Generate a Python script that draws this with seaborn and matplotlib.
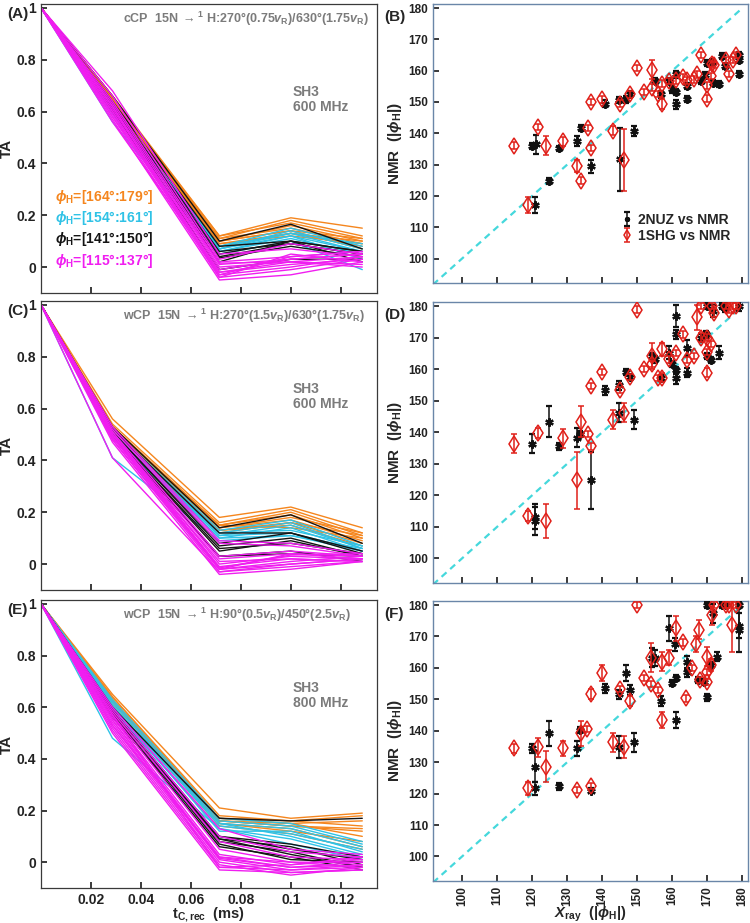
import numpy as np
import pandas as pd
import matplotlib
matplotlib.use("Agg")
import matplotlib.pyplot as plt
import seaborn as sns

# ---------------- data: decay curves (TA vs t_C,rec) ----------------
t_rec = [0, 0.0286, 0.0714, 0.1, 0.1286]
group_colors = ['#f5861e', '#2fc2e6', '#141414', '#f01ef0']
group_labels = [r'$\phi_\mathrm{H}$=[164°:179°]', r'$\phi_\mathrm{H}$=[154°:161°]',
                r'$\phi_\mathrm{H}$=[141°:150°]', r'$\phi_\mathrm{H}$=[115°:137°]']

# TA values at t_rec[1:], TA(0) = 1
A_orange = [[0.66, 0.12, 0.19, 0.15], [0.66, 0.11, 0.18, 0.12], [0.65, 0.12, 0.17, 0.11],
            [0.65, 0.10, 0.16, 0.10], [0.64, 0.11, 0.15, 0.09], [0.64, 0.10, 0.14, 0.11],
            [0.65, 0.09, 0.13, 0.08], [0.63, 0.10, 0.14, 0.07], [0.64, 0.09, 0.12, 0.09],
            [0.63, 0.08, 0.13, 0.10]]
A_cyan = [[0.62, 0.08, 0.15, 0.08], [0.62, 0.07, 0.14, 0.07], [0.61, 0.08, 0.13, 0.09],
          [0.60, 0.07, 0.12, 0.06], [0.61, 0.06, 0.11, 0.05], [0.59, 0.06, 0.12, 0.03],
          [0.56, 0.05, 0.10, -0.01], [0.60, 0.07, 0.13, 0.06]]
A_black = [[0.66, 0.10, 0.165, 0.07], [0.64, 0.08, 0.10, 0.06], [0.63, 0.06, 0.09, 0.05],
           [0.62, 0.05, 0.10, 0.06], [0.62, 0.04, 0.09, 0.05], [0.61, 0.035, 0.08, 0.04],
           [0.60, 0.02, 0.10, 0.02], [0.60, -0.01, 0.03, 0.03]]
A_magenta = [[0.68, 0.05, 0.07, 0.04], [0.66, 0.03, 0.09, 0.05], [0.64, 0.02, 0.04, 0.06],
             [0.63, 0.01, 0.03, 0.05], [0.62, 0.00, 0.02, 0.04], [0.61, -0.01, 0.03, 0.05],
             [0.60, -0.02, 0.01, 0.03], [0.59, -0.03, 0.00, 0.04], [0.58, -0.04, -0.01, 0.03],
             [0.57, -0.05, -0.03, 0.02], [0.56, -0.02, 0.02, 0.00], [0.60, -0.03, 0.04, 0.06],
             [0.62, -0.04, 0.05, 0.02], [0.58, 0.015, 0.02, 0.01]]

C_orange = [[0.56, 0.18, 0.22, 0.14], [0.54, 0.16, 0.21, 0.12], [0.53, 0.15, 0.20, 0.11],
            [0.53, 0.15, 0.19, 0.10], [0.52, 0.14, 0.18, 0.12], [0.52, 0.14, 0.17, 0.09],
            [0.51, 0.13, 0.16, 0.08], [0.51, 0.13, 0.15, 0.07], [0.50, 0.12, 0.16, 0.11],
            [0.52, 0.15, 0.14, 0.10]]
C_cyan = [[0.52, 0.13, 0.17, 0.07], [0.51, 0.12, 0.16, 0.06], [0.50, 0.11, 0.15, 0.06],
          [0.50, 0.11, 0.12, 0.05], [0.49, 0.10, 0.11, 0.06], [0.49, 0.12, 0.13, 0.07],
          [0.41, 0.09, 0.11, 0.05], [0.50, 0.10, 0.14, 0.05]]
C_black = [[0.53, 0.14, 0.19, 0.08], [0.52, 0.12, 0.12, 0.05], [0.51, 0.08, 0.12, 0.04],
           [0.51, 0.07, 0.10, 0.03], [0.50, 0.06, 0.08, 0.04], [0.50, 0.05, 0.09, 0.03],
           [0.49, 0.03, 0.04, 0.03], [0.50, 0.03, 0.05, 0.01]]
C_magenta = [[0.53, 0.09, 0.08, 0.04], [0.52, 0.08, 0.07, 0.03], [0.51, 0.03, 0.05, 0.03],
             [0.50, 0.02, 0.04, 0.02], [0.50, 0.00, 0.03, 0.02], [0.49, -0.01, 0.02, 0.01],
             [0.49, -0.02, 0.01, 0.03], [0.48, -0.02, 0.00, 0.02], [0.48, -0.03, -0.01, 0.01],
             [0.47, -0.04, -0.02, 0.01], [0.41, -0.03, 0.00, 0.02], [0.50, -0.015, 0.035, 0.04],
             [0.49, 0.01, 0.02, 0.01], [0.51, -0.02, 0.04, 0.03]]

E_orange = [[0.65, 0.21, 0.17, 0.19], [0.64, 0.18, 0.16, 0.18], [0.64, 0.17, 0.15, 0.16],
            [0.63, 0.17, 0.16, 0.14], [0.63, 0.16, 0.14, 0.12], [0.62, 0.16, 0.15, 0.10],
            [0.62, 0.15, 0.12, 0.08], [0.63, 0.15, 0.13, 0.06], [0.61, 0.14, 0.11, 0.05],
            [0.62, 0.16, 0.14, 0.13]]
E_cyan = [[0.63, 0.17, 0.15, 0.08], [0.62, 0.16, 0.14, 0.07], [0.62, 0.15, 0.13, 0.06],
          [0.61, 0.14, 0.11, 0.05], [0.60, 0.15, 0.10, 0.03], [0.59, 0.13, 0.09, 0.02],
          [0.48, 0.13, 0.07, 0.01], [0.60, 0.12, 0.12, 0.04]]
E_black = [[0.60, 0.17, 0.16, 0.17], [0.59, 0.10, 0.07, 0.02], [0.59, 0.09, 0.06, -0.01],
           [0.58, 0.08, 0.04, -0.02], [0.58, 0.07, 0.01, 0.00], [0.57, 0.06, 0.02, -0.03],
           [0.57, 0.10, 0.05, 0.01], [0.56, 0.09, 0.03, -0.02]]
E_magenta = [[0.60, 0.13, 0.05, 0.03], [0.59, 0.10, 0.04, 0.02], [0.58, 0.08, 0.02, 0.01],
             [0.57, 0.05, 0.00, 0.00], [0.56, 0.03, -0.01, 0.02], [0.55, 0.02, -0.02, -0.01],
             [0.54, 0.01, -0.03, -0.02], [0.53, 0.00, -0.04, -0.03], [0.52, -0.01, -0.05, -0.02],
             [0.51, -0.02, -0.03, -0.01], [0.50, -0.03, -0.04, -0.03], [0.55, 0.015, -0.02, 0.00],
             [0.57, -0.02, -0.01, 0.01], [0.53, 0.02, 0.00, -0.02]]

# ---------------- data: X-ray vs NMR |phi_H| ----------------
B_nuz_x = [120, 121, 120.8, 124.8, 127.8, 132.8, 133.9, 136.9, 140.9, 145, 144.9, 146.9, 148, 149,
           155, 156.8, 159, 160, 161, 161.2, 161.2, 164.1, 164.1, 168.1, 169.3, 170, 171.2, 171.7,
           173.2, 174.3, 175.1, 179.1, 179.1, 179.1]
B_nuz_y = [136, 136.5, 117, 124.7, 135.2, 137.6, 141.6, 129.4, 149.5, 131.7, 150.6, 150.8, 152.5,
           140.7, 156.6, 152.4, 156.6, 154, 153.2, 158.8, 149.2, 150.9, 155.1, 156.6, 158.5, 162.4,
           162.7, 156, 155.7, 164.6, 161.5, 163.3, 164.9, 159]
B_nuz_e = [1, 3, 2.5, 1, 0.8, 1.5, 1, 2, 1, 10, 1, 1, 1, 1.5, 1, 1, 1, 1, 1, 1, 1.5, 1, 1, 1, 1,
           1, 1, 1, 1, 1, 1, 1, 1, 1]
B_shg_x = [114.7, 118.9, 121.8, 123.9, 128.9, 132.8, 133.9, 135.9, 136.9, 136.9, 139.9, 143, 145,
           146.2, 148, 149.9, 151.9, 154.1, 154.1, 156, 157, 157, 159, 161.2, 163, 164.1, 166.2,
           167.1, 168.1, 170, 170, 171, 171.2, 171.9, 175.3, 176.2, 177.2, 178.1]
B_shg_y = [136.1, 117, 141.9, 136.1, 137.4, 129.6, 124.9, 141.6, 135.2, 150.1, 150.8, 140.8, 149.5,
           131.5, 152.4, 160.8, 153.2, 160.3, 154.6, 152.5, 149.3, 155.9, 156.6, 156.9, 158, 156.9,
           157.2, 158.8, 164.9, 151.1, 155.3, 158.2, 162.2, 161.7, 163.3, 159, 163.3, 164.9]
B_shg_e = [1, 2.5, 1, 3, 1.5, 2, 1, 1, 1, 1, 1, 1.5, 1, 10, 1, 1, 1, 3, 1, 1, 1.5, 1, 1, 1, 1,
           1, 1, 1, 1, 1, 1, 1, 1, 1, 1, 1, 1, 1]

D_nuz_x = [119.9, 120.8, 120.8, 124.8, 127.8, 132.8, 133.7, 136.9, 140.9, 144.9, 144.9, 146.9,
           148, 149, 154.1, 155, 156.8, 159, 160, 161, 161, 161, 161, 164.1, 164.1, 168.1, 170,
           169.7, 170, 171, 171.7, 173.2, 174.3, 175.1, 179.1]
D_nuz_y = [136.4, 113.2, 111.9, 143.4, 135.5, 138.3, 139.4, 124.8, 153.3, 154.9, 146.2, 159.2,
           157.5, 143.9, 164.2, 163.1, 157.3, 165.2, 161.7, 176.8, 171, 159.6, 157.3, 166.6, 158.9,
           170, 180, 171, 164.2, 162.8, 178.4, 165.2, 180, 179.5, 180]
D_nuz_e = [3, 4, 4.5, 5, 1, 3, 1, 9, 1.5, 1.5, 3, 1, 1, 3, 1, 1, 1, 2, 1, 3.5, 1.5, 1, 2, 2.5,
           1.5, 1, 1, 1, 1, 1, 2, 2, 1, 1.5, 1.5]
D_shg_x = [114.7, 118.7, 121.8, 123.9, 128.9, 132.8, 133.9, 135.9, 136.9, 136.9, 139.9, 143, 145,
           146.2, 148, 149.9, 151.9, 154.1, 154.1, 156, 157, 157, 159, 161.2, 163, 164.1, 166.2,
           167.1, 168.1, 168.1, 170, 170, 170, 171, 171.2, 171.9, 175.3, 176.2, 177.2, 178.1]
D_shg_y = [136.4, 113.5, 139.8, 111.9, 138.1, 124.8, 143.4, 139.4, 135.5, 154.7, 159.2, 143.9,
           153.3, 146.2, 157.5, 178.9, 160, 161.7, 164.2, 157.3, 166.3, 157.3, 163.1, 165.2, 171,
           162.8, 164.2, 176.5, 180, 170, 170, 165.5, 158.9, 167.9, 180, 177.9, 180, 178.9, 180, 180]
D_shg_e = [3, 1.5, 1.5, 5.5, 3, 9, 5, 1, 1, 1, 1, 3, 1, 3, 1, 1, 1, 1, 4, 1, 2, 1.5, 1, 1, 1,
           1, 1, 4, 1, 1.5, 1, 1, 1.5, 1, 1, 1.5, 1, 1, 1, 1]

F_nuz_x = [119.9, 120.8, 120.8, 124.8, 127.8, 132.8, 133.7, 136.9, 140.9, 144.9, 144.9, 146.9,
           148, 149, 154.1, 155, 156.8, 159, 160, 161, 161, 160.8, 164.1, 164.1, 167.4, 169.1,
           170, 170, 171.7, 171, 172.9, 174.3, 175.3, 179.1, 179.1, 179.1]
F_nuz_y = [134.4, 128.6, 121.7, 139.2, 122.3, 134.4, 140.3, 120.9, 153.5, 151.6, 134.8, 158.3,
           153, 136.4, 163.3, 163.1, 149.5, 172.6, 155.1, 156.7, 143.5, 167.5, 161.8, 158.6, 156.2,
           155.6, 150.6, 180, 177.4, 160.9, 163.6, 180, 180, 180, 173.4, 172.1]
F_nuz_e = [1.5, 5, 2, 4, 1, 2.5, 1, 0.8, 1.5, 1.5, 3.5, 2.5, 1.5, 3, 3, 2.5, 1.5, 4, 1, 1, 2.5,
           2, 2, 1.5, 1, 1, 1, 1, 3, 1, 1.5, 1, 1, 1, 4, 7]
F_shg_x = [114.7, 118.7, 121.8, 123.9, 128.9, 132.8, 133.9, 135.7, 136.9, 136.9, 139.9, 143, 145,
           146.2, 148, 149.9, 151.9, 153.8, 153.8, 156, 157, 157, 159, 161, 163, 163.8, 165.7,
           166.9, 167.6, 167.9, 169.8, 169.8, 169.8, 171, 171.2, 171.9, 175.3, 176.2, 178.1, 177]
F_shg_y = [134.4, 121.7, 134.8, 128.6, 134.4, 121.2, 139.2, 140.5, 122.5, 151.7, 158.3, 136.4,
           153.3, 134.8, 149.5, 180, 156.7, 163.3, 154.8, 153, 143.5, 162, 163.3, 172.6, 168.1,
           150.3, 159.9, 167.5, 172.1, 156.2, 155.6, 163.6, 158.6, 160.9, 176.8, 180, 180, 180,
           180, 173.6]
F_shg_e = [1.5, 2, 3, 5, 2.5, 1, 4, 1, 1, 1.5, 2.5, 3, 1, 3.5, 1.5, 1, 1, 4.5, 1, 1, 2.5, 3,
           2.5, 4, 1, 1, 1, 2.5, 3, 1, 1, 3, 1, 2, 3, 1, 1, 1, 1, 8.5]

# ---------------- style ----------------
sns.set_theme(style="ticks")
plt.rcParams['font.family'] = ['Liberation Sans', 'DejaVu Sans']
plt.rcParams['font.weight'] = 'bold'
plt.rcParams['axes.labelweight'] = 'bold'
plt.rcParams['mathtext.fontset'] = 'custom'
plt.rcParams['mathtext.rm'] = 'Liberation Sans:bold'
plt.rcParams['mathtext.it'] = 'Liberation Sans:italic:bold'
plt.rcParams['mathtext.bf'] = 'Liberation Sans:bold'

fig = plt.figure(figsize=(7.5, 9.23), dpi=100)

left_rects = [[0.0547, 0.6826, 0.448, 0.3131], [0.0547, 0.3608, 0.448, 0.3131],
              [0.0547, 0.0379, 0.448, 0.312]]
right_rects = [[0.5773, 0.6934, 0.42, 0.3023], [0.5773, 0.3684, 0.42, 0.3044],
               [0.5773, 0.0455, 0.42, 0.3034]]

curve_sets = [[A_orange, A_cyan, A_black, A_magenta],
              [C_orange, C_cyan, C_black, C_magenta],
              [E_orange, E_cyan, E_black, E_magenta]]
titles = [r'cCP  15N $\rightarrow^{1}$ H:270°(0.75$v_\mathrm{R}$)/630°(1.75$v_\mathrm{R}$)',
          r'wCP  15N $\rightarrow^{1}$ H:270°(1.5$v_\mathrm{R}$)/630°(1.75$v_\mathrm{R}$)',
          r'wCP  15N $\rightarrow^{1}$ H:90°(0.5$v_\mathrm{R}$)/450°(2.5$v_\mathrm{R}$)']
title_x = [0.245, 0.245, 0.245]
sample_txt = ['SH3\n600 MHz', 'SH3\n600 MHz', 'SH3\n800 MHz']
left_tags = ['(A)', '(C)', '(E)']
right_tags = ['(B)', '(D)', '(F)']
gray = '#7b7b7b'

for i in range(3):
    ax = fig.add_axes(left_rects[i])
    for gi, rows in enumerate(curve_sets[i]):
        recs = []
        for li, vals in enumerate(rows):
            for t, v in zip(t_rec, [1.0] + vals):
                recs.append({'t': t, 'TA': v, 'line': li})
        df = pd.DataFrame(recs)
        sns.lineplot(data=df, x='t', y='TA', units='line', estimator=None,
                     color=group_colors[gi], lw=1.0, ax=ax, legend=False)
    ax.set_xlim(0, 0.1345)
    ax.set_ylim(-0.1, 1.015)
    ax.set_xticks([0.02, 0.04, 0.06, 0.08, 0.1, 0.12])
    ax.set_yticks([0, 0.2, 0.4, 0.6, 0.8, 1])
    ax.set_yticklabels(['0', '0.2', '0.4', '0.6', '0.8', '1'])
    ax.tick_params(direction='in', length=4, labelsize=10, colors='#222222')
    ax.set_ylabel('TA', fontsize=11, labelpad=2)
    if i == 2:
        ax.set_xticklabels(['0.02', '0.04', '0.06', '0.08', '0.1', '0.12'])
        ax.set_xlabel(r'$\mathrm{t}_\mathrm{C,rec}$  (ms)', fontsize=10.5, labelpad=-1)
    else:
        ax.set_xticklabels([])
        ax.set_xlabel('')
    for s in ax.spines.values():
        s.set_color('#3a3a3a')
        s.set_linewidth(0.9)
    ax.text(title_x[i], 0.95, titles[i], transform=ax.transAxes, color=gray,
            fontsize=9, ha='left', va='center')
    ax.text(0.75, 0.67, sample_txt[i], transform=ax.transAxes, color=gray,
            fontsize=10, ha='left', va='center', linespacing=1.1)
    ax.text(-0.1, 0.965, left_tags[i], transform=ax.transAxes, fontsize=11,
            ha='left', va='center')
    if i == 0:
        for gi, (lab, ty) in enumerate(zip(group_labels, [0.27, 0.188, 0.107, 0.024])):
            ax.text(0.0055, ty, lab, color=group_colors[gi], fontsize=10,
                    ha='left', va='center')

scatter_sets = [(B_nuz_x, B_nuz_y, B_nuz_e, B_shg_x, B_shg_y, B_shg_e),
                (D_nuz_x, D_nuz_y, D_nuz_e, D_shg_x, D_shg_y, D_shg_e),
                (F_nuz_x, F_nuz_y, F_nuz_e, F_shg_x, F_shg_y, F_shg_e)]
axis_ticks = [100, 110, 120, 130, 140, 150, 160, 170, 180]

for i in range(3):
    ax = fig.add_axes(right_rects[i])
    nx, ny, ne, sx, sy, se = scatter_sets[i]
    ax.plot([91.7, 180], [91.7, 180], ls=(0, (3, 2.2)), color='#45d8dc', lw=1.6, zorder=1)
    h1 = ax.errorbar(nx, ny, yerr=ne, ls='none', marker=(6, 2, 0), ms=6, mew=1.6,
                     color='#111111', ecolor='#111111', elinewidth=1.1, capsize=2, zorder=3)
    h2 = ax.errorbar(sx, sy, yerr=se, ls='none', marker='d', ms=8, mfc='none', mew=1.1,
                     color='#e0201a', ecolor='#e0201a', elinewidth=1.1, capsize=2, zorder=4)
    ax.set_xlim(91.7, 181.6)
    ax.set_ylim(92.2, 181.3)
    ax.set_xticks(axis_ticks)
    ax.set_yticks(axis_ticks)
    ax.tick_params(direction='in', length=4, labelsize=8.5, colors='#222222')
    ax.set_ylabel(r'NMR  (|$\phi_\mathrm{H}$|)', fontsize=11, labelpad=3)
    if i == 2:
        ax.set_xticklabels([str(v) for v in axis_ticks], rotation=90)
        ax.set_xlabel(r'$X_\mathrm{ray}$  (|$\phi_\mathrm{H}$|)', fontsize=10.5, labelpad=-1)
    else:
        ax.set_xticklabels([])
    for s in ax.spines.values():
        s.set_color('#6a86a8')
        s.set_linewidth(1.0)
    ax.text(-0.155, 0.955, right_tags[i], transform=ax.transAxes, fontsize=11,
            ha='left', va='center')
    if i == 0:
        ax.legend([h1, h2], ['2NUZ vs NMR', '1SHG vs NMR'], loc='lower right',
                  bbox_to_anchor=(0.985, 0.1), frameon=False, fontsize=10,
                  handlelength=0.6, handletextpad=0.5, labelspacing=0.15, markerscale=0.6)

fig.savefig('out.png', dpi=100)
